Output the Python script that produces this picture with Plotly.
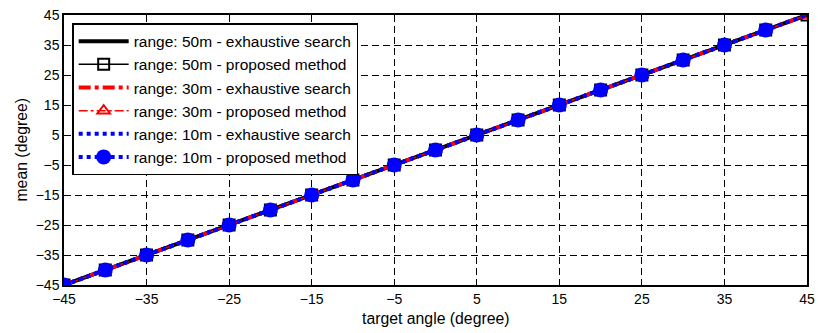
import plotly.graph_objects as go

angles = [-45, -40, -35, -30, -25, -20, -15, -10, -5, 0, 5, 10, 15, 20, 25, 30, 35, 40, 45]
mean_50_exh = [-45, -40, -35, -30, -25, -20, -15, -10, -5, 0, 5, 10, 15, 20, 25, 30, 35, 40, 45]
mean_50_prop = [-45, -40, -35, -30, -25, -20, -15, -10, -5, 0, 5, 10, 15, 20, 25, 30, 35, 40, 45]
mean_30_exh = [-45, -40, -35, -30, -25, -20, -15, -10, -5, 0, 5, 10, 15, 20, 25, 30, 35, 40, 45]
mean_30_prop = [-45, -40, -35, -30, -25, -20, -15, -10, -5, 0, 5, 10, 15, 20, 25, 30, 35, 40, 45]
mean_10_exh = [-45, -40, -35, -30, -25, -20, -15, -10, -5, 0, 5, 10, 15, 20, 25, 30, 35, 40, 45]
angles_10_prop = [-45, -40, -35, -30, -25, -20, -15, -10, -5, 0, 5, 10, 15, 20, 25, 30, 35, 40]
mean_10_prop = [-45, -40, -35, -30, -25, -20, -15, -10, -5, 0, 5, 10, 15, 20, 25, 30, 35, 40]
tick_vals = [-45, -35, -25, -15, -5, 5, 15, 25, 35, 45]
x_title = "target angle (degree)"
y_title = "mean (degree)"

FONT = "Liberation Sans, Arial"

fig = go.Figure()
fig.add_trace(go.Scatter(x=angles, y=mean_50_exh, mode="lines",
                         line=dict(color="black", width=4),
                         name="range: 50m - exhaustive search"))
fig.add_trace(go.Scatter(x=angles, y=mean_50_prop, mode="lines+markers",
                         line=dict(color="black", width=1.5),
                         marker=dict(symbol="square-open", size=11, color="black", line=dict(width=2)),
                         name="range: 50m - proposed method"))
fig.add_trace(go.Scatter(x=angles, y=mean_30_exh, mode="lines",
                         line=dict(color="red", width=4, dash="dashdot"),
                         name="range: 30m - exhaustive search"))
fig.add_trace(go.Scatter(x=angles, y=mean_30_prop, mode="lines+markers",
                         line=dict(color="red", width=1.5, dash="dashdot"),
                         marker=dict(symbol="triangle-up-open", size=11, color="red", line=dict(width=2)),
                         name="range: 30m - proposed method"))
fig.add_trace(go.Scatter(x=angles, y=mean_10_exh, mode="lines",
                         line=dict(color="blue", width=4, dash="dot"),
                         name="range: 10m - exhaustive search"))
fig.add_trace(go.Scatter(x=angles_10_prop, y=mean_10_prop, mode="lines+markers",
                         line=dict(color="blue", width=4, dash="dot"),
                         marker=dict(symbol="circle", size=15, color="blue"),
                         name="range: 10m - proposed method"))

axis_common = dict(
    showline=True, linecolor="black", linewidth=1.5, mirror="ticks",
    ticks="inside", ticklen=5, tickcolor="black",
    showgrid=True, gridcolor="black", griddash="7px,4px", gridwidth=1,
    zeroline=False, tickvals=tick_vals, automargin=False,
    tickfont=dict(family=FONT, size=14, color="black"),
)

fig.update_xaxes(range=[-45, 45], **axis_common)
fig.update_yaxes(range=[-45, 45], **axis_common)

fig.add_annotation(text=x_title, xref="paper", yref="paper", x=0.5, y=-0.125,
                   xanchor="center", yanchor="middle", showarrow=False,
                   font=dict(family=FONT, size=15.8, color="black"))
fig.add_annotation(text=y_title, xref="paper", yref="paper", x=-0.0585, y=0.5,
                   xanchor="center", yanchor="middle", showarrow=False, textangle=-90,
                   font=dict(family=FONT, size=15.8, color="black"))

fig.update_layout(
    width=818, height=333,
    margin=dict(l=64, r=11, t=15, b=48),
    plot_bgcolor="white", paper_bgcolor="white",
    showlegend=True,
    legend=dict(x=0.011, y=0.97, xanchor="left", yanchor="top",
                bgcolor="white", bordercolor="black", borderwidth=1.5,
                font=dict(family=FONT, size=15.5, color="black"),
                itemwidth=50, tracegroupgap=0),
)

fig.write_html("out.html")
